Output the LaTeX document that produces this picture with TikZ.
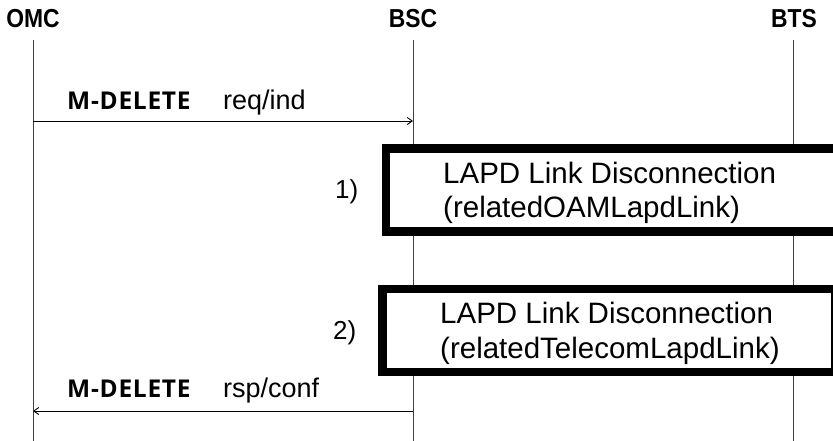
\documentclass[tikz,border=0pt]{standalone}
\usepackage{fontspec}
\setmainfont{Liberation Sans}
\newfontfamily\headfont{Liberation Sans}[FakeStretch=0.88]
\newfontfamily\mfont{Open Sans}[LetterSpace=3]
\usetikzlibrary{arrows.meta}
\begin{document}
\begin{tikzpicture}[x=1pt,y=-1pt,
  head/.style={anchor=base,inner sep=0pt,font=\headfont\bfseries\fontsize{26}{30}\selectfont},
  life/.style={line width=1pt,draw=black!75},
  msg/.style={line width=0.9pt,-{Straight Barb[length=5pt,width=7pt]}},
  mlbl/.style={anchor=base west,inner sep=0pt,font=\mfont\bfseries\fontsize{24.5}{28}\selectfont},
  slbl/.style={anchor=base west,inner sep=0pt,font=\fontsize{27}{30}\selectfont},
  procbox/.style={draw=black,fill=white,line width=8.5pt},
  btxt/.style={anchor=base west,inner sep=0pt,font=\fontsize{29.5}{35}\selectfont},
  num/.style={anchor=base west,inner sep=0pt,font=\fontsize{26}{30}\selectfont}]
\useasboundingbox (0,0) rectangle (833,441);
% headers
\node[head] (omc) at (33,28) {OMC};
\node[head] (bsc) at (413,28) {BSC};
\node[head] (bts) at (794,28) {BTS};
% lifelines
\coordinate (omcT) at (33,40); \coordinate (omcB) at (33,441);
\coordinate (bscT) at (413,40); \coordinate (bscB) at (413,441);
\coordinate (btsT) at (793,40); \coordinate (btsB) at (793,441);
\draw[life] (omcT) -- (omcB);
\draw[life] (bscT) -- (bscB);
\draw[life] (btsT) -- (btsB);
% message 1
\coordinate (m1a) at (33,121); \coordinate (m1b) at (413,121);
\draw[msg] (m1a) -- (m1b);
\node[mlbl] (m1l) at (67,110) {M-DELETE};
\node[slbl] (m1s) at (223,110) {req/ind};
% box 1
\draw[procbox] (386,148.5) rectangle (850,231.5);
\node[btxt] (b1a) at (443,183) {LAPD Link Disconnection};
\node[btxt] (b1b) at (443,217) {(relatedOAMLapdLink)};
\node[num] (n1) at (335,199) {1)};
% box 2
\draw[procbox] (382.5,289) rectangle (835,372);
\node[btxt] (b2a) at (440,323) {LAPD Link Disconnection};
\node[btxt] (b2b) at (440,358) {(relatedTelecomLapdLink)};
\node[num] (n2) at (333,339) {2)};
% message 2
\coordinate (m2a) at (413,411); \coordinate (m2b) at (33,411);
\draw[msg] (m2a) -- (m2b);
\node[mlbl] (m2l) at (67,397) {M-DELETE};
\node[slbl] (m2s) at (223,397) {rsp/conf};
\end{tikzpicture}
\end{document}
